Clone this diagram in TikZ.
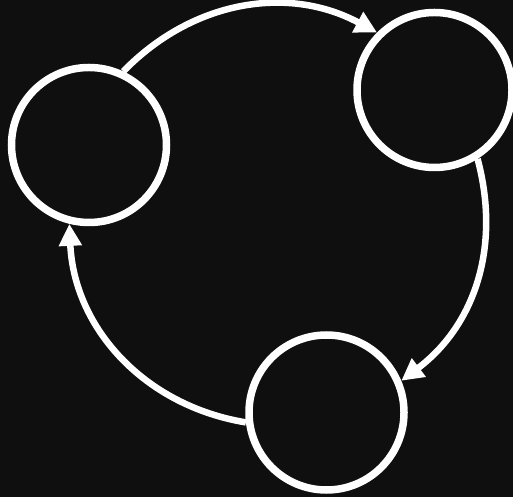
\documentclass[tikz,border=0pt]{standalone}
\usepackage{xcolor}
\usepackage{tikz}
\usetikzlibrary{arrows.meta,positioning}
\definecolor{bgdark}{HTML}{0f0f0f}

\begin{document}
\begin{tikzpicture}[
  x=1pt, y=1pt,
  ring/.style={draw=white, circle, line width=7.5pt, minimum size=155pt, inner sep=0pt},
  arr/.style={-{Triangle[length=22pt, width=22pt]}, draw=white, line width=6.5pt}
]
\useasboundingbox (0,0) rectangle (513,497);
\fill[bgdark] (0,0) rectangle (513,497);
\node[ring] (A) at (89,352) {};
\node[ring, right=183pt of A, yshift=55pt] (B) {};
\node[ring, below=160pt of B, xshift=-108pt] (C) {};
\draw[arr] (A.65) to[bend left=37] (B.135);
\draw[arr] (B.-58) to[bend left=34] (C.23);
\draw[arr] (C.187) to[bend left=39] (A.-104);
\end{tikzpicture}
\end{document}
